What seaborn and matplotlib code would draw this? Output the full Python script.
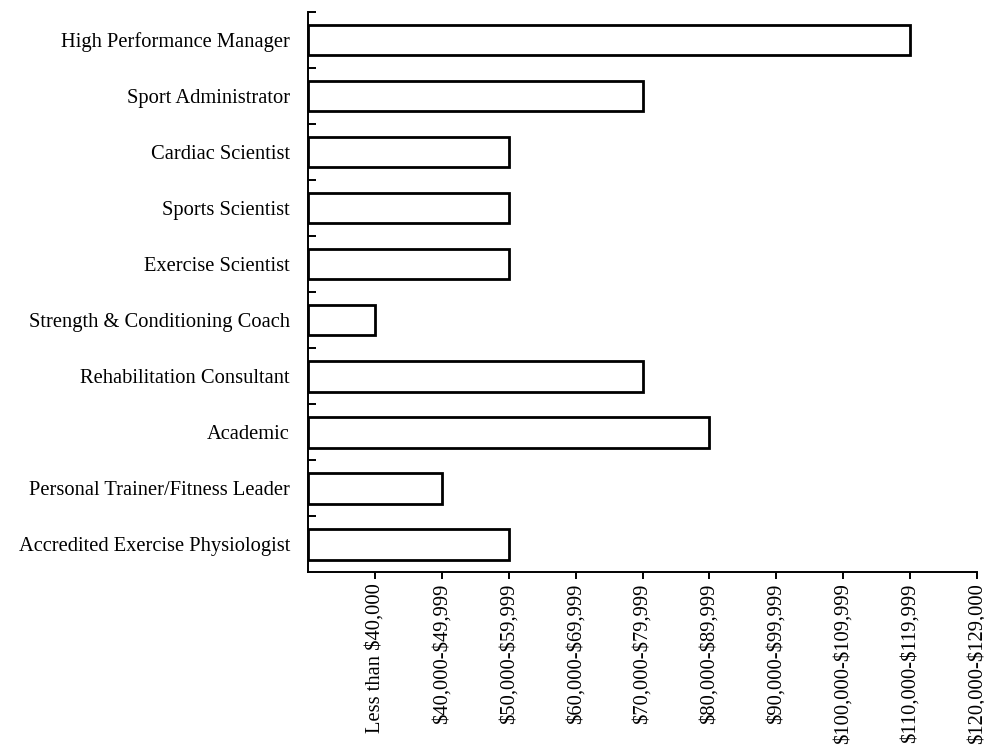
import numpy as np
import pandas as pd
import matplotlib
matplotlib.use('Agg')
import matplotlib.pyplot as plt
import seaborn as sns

# Job roles (top to bottom) and salary band index (1 = Less than $40,000)
roles = ['High Performance Manager', 'Sport Administrator', 'Cardiac Scientist',
         'Sports Scientist', 'Exercise Scientist', 'Strength & Conditioning Coach',
         'Rehabilitation Consultant', 'Academic', 'Personal Trainer/Fitness Leader',
         'Accredited Exercise Physiologist']
band = [9, 5, 3, 3, 3, 1, 5, 6, 2, 3]

salary_labels = ['Less than $40,000', '$40,000-$49,999', '$50,000-$59,999',
                 '$60,000-$69,999', '$70,000-$79,999', '$80,000-$89,999',
                 '$90,000-$99,999', '$100,000-$109,999', '$110,000-$119,999',
                 '$120,000-$129,000']

df = pd.DataFrame({'role': roles, 'band': band})

sns.set_style('ticks')
plt.rcParams['font.family'] = ['Liberation Serif', 'DejaVu Serif']
plt.rcParams['text.color'] = 'black'
plt.rcParams['xtick.color'] = 'black'
plt.rcParams['ytick.color'] = 'black'

fig = plt.figure(figsize=(9.84, 7.46), dpi=100)
ax = fig.add_axes([0.313, 0.233, 0.68, 0.751])

sns.barplot(data=df, x='band', y='role', order=roles, orient='h',
            color='white', edgecolor='black', linewidth=2.0, width=0.55, ax=ax)

ax.set_xlim(0, 10)
ax.set_ylim(len(roles) - 0.5, -0.5)
ax.set_xticks(np.arange(1, 11))
ax.set_xticklabels([s.replace('$', r'\$') for s in salary_labels],
                   rotation=90, fontsize=14.8)
ax.tick_params(axis='x', direction='out', length=5, width=1.4, pad=3)
ax.tick_params(axis='y', which='major', length=0, labelsize=14.8, pad=13)
ax.set_yticks(np.arange(-0.5, len(roles) - 1, 1), minor=True)
ax.tick_params(axis='y', which='minor', direction='in', length=6, width=1.4)
ax.set_xlabel('')
ax.set_ylabel('')
for side in ['top', 'right']:
    ax.spines[side].set_visible(False)
for side in ['left', 'bottom']:
    ax.spines[side].set_linewidth(1.4)
    ax.spines[side].set_color('black')

fig.savefig('out.png', dpi=100)
